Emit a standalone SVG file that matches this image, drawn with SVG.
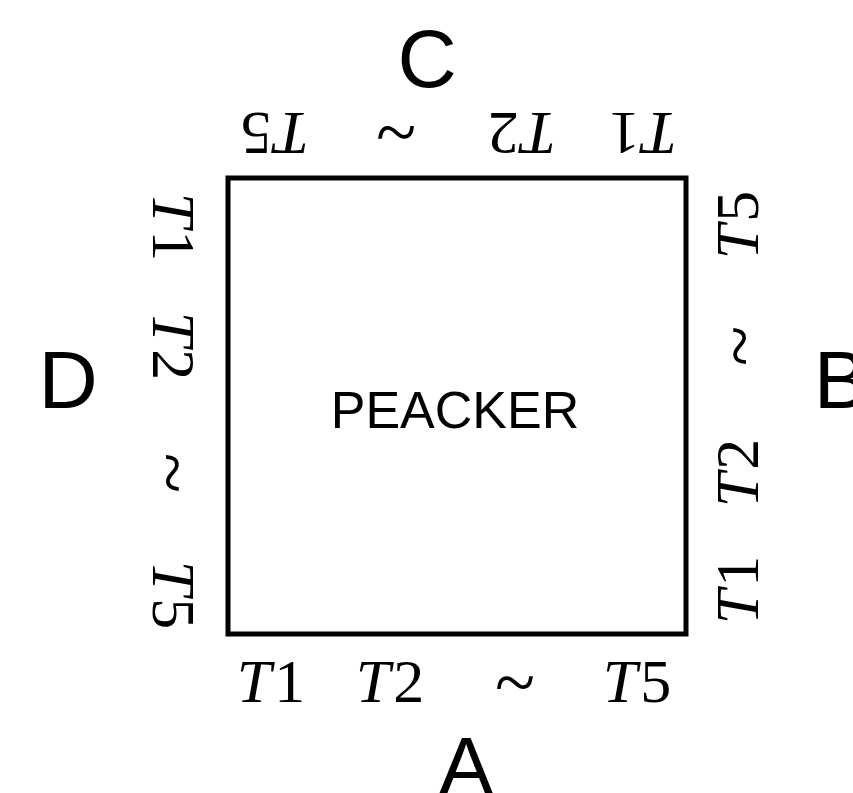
<svg xmlns="http://www.w3.org/2000/svg" width="853" height="793" viewBox="0 0 853 793">
<style>
.big{font-family:"Liberation Sans",Arial,sans-serif;font-size:82px;fill:#000;text-anchor:middle}
.name{font-family:"Liberation Sans",Arial,sans-serif;font-size:52px;fill:#000;text-anchor:middle}
.t{font-family:"Liberation Serif","Times New Roman",serif;font-size:62px;fill:#000;text-anchor:middle}
.w{font-family:"Liberation Serif","Times New Roman",serif;font-size:74px;fill:#000;text-anchor:middle}
.i{font-style:italic}
</style>
<rect width="853" height="793" fill="#fff"/>
<g id="peacker">
<rect x="228" y="178" width="458" height="456" fill="none" stroke="#000" stroke-width="5"/>
<text class="name" x="455" y="428">PEACKER</text>
</g>
<g id="side-labels">
<text class="big" x="427" y="87">C</text>
<text class="big" x="466" y="794">A</text>
<text class="big" x="68" y="408">D</text>
<text class="big" x="841" y="408">B</text>
</g>
<g id="side-A">
<text class="t" x="271" y="702"><tspan class="i">T</tspan><tspan dx="3">1</tspan></text>
<text class="t" x="390" y="702"><tspan class="i">T</tspan><tspan dx="3">2</tspan></text>
<text class="w" x="515" y="707">~</text>
<text class="t" x="637" y="702"><tspan class="i">T</tspan><tspan dx="3">5</tspan></text>
</g>
<g id="side-C">
<text class="t" transform="translate(643,113) rotate(180)"><tspan class="i">T</tspan><tspan dx="3">1</tspan></text>
<text class="t" transform="translate(522,113) rotate(180)"><tspan class="i">T</tspan><tspan dx="3">2</tspan></text>
<text class="w" transform="translate(396,108) rotate(180)">~</text>
<text class="t" transform="translate(275,113) rotate(180)"><tspan class="i">T</tspan><tspan dx="3">5</tspan></text>
</g>
<g id="side-D">
<text class="t" transform="translate(153,227) rotate(90)"><tspan class="i">T</tspan><tspan dx="3">1</tspan></text>
<text class="t" transform="translate(153,346) rotate(90)"><tspan class="i">T</tspan><tspan dx="3">2</tspan></text>
<text class="w" transform="translate(148,473) rotate(90)">~</text>
<text class="t" transform="translate(153,595) rotate(90)"><tspan class="i">T</tspan><tspan dx="3">5</tspan></text>
</g>
<g id="side-B">
<text class="t" transform="translate(758,590) rotate(-90)"><tspan class="i">T</tspan><tspan dx="3">1</tspan></text>
<text class="t" transform="translate(758,473) rotate(-90)"><tspan class="i">T</tspan><tspan dx="3">2</tspan></text>
<text class="w" transform="translate(764,346) rotate(-90)">~</text>
<text class="t" transform="translate(758,225) rotate(-90)"><tspan class="i">T</tspan><tspan dx="3">5</tspan></text>
</g>
<g id="connectors"/>
</svg>
